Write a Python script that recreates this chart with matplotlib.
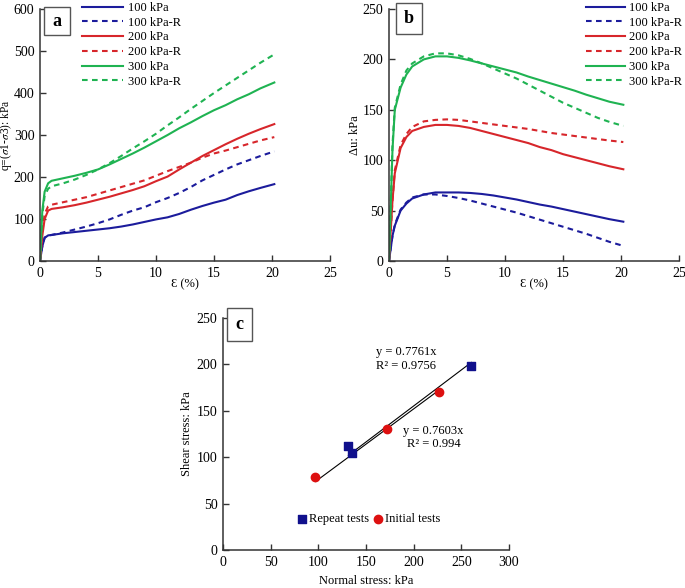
import matplotlib
matplotlib.use('Agg')
import matplotlib.pyplot as plt
from matplotlib.patches import Rectangle
import numpy as np

plt.rcParams['font.family'] = ['Liberation Serif', 'DejaVu Serif']
plt.rcParams['mathtext.fontset'] = 'stix'
plt.rcParams['font.size'] = 9

# ---- data ----
# panel a: deviator stress q (kPa) vs axial strain (%)
eps_a = [0, 0.2, 0.4, 0.7, 1, 2, 3, 4, 5, 6, 7, 8, 9, 10, 11, 12, 13, 14, 15, 16, 17, 18, 19, 20.2]
q_100 = [0, 35, 55, 61, 62, 66, 69, 72, 75, 78, 82, 87, 93, 99, 104, 112, 122, 131, 139, 146, 157, 166, 174, 183]
q_100R = [0, 35, 56, 60, 62, 68, 75, 82, 90, 99, 110, 120, 128, 140, 150, 162, 176, 192, 205, 218, 230, 240, 250, 261]
q_200 = [0, 60, 100, 120, 124, 128, 133, 139, 146, 153, 161, 169, 178, 190, 201, 218, 234, 250, 264, 278, 291, 303, 314, 326]
q_200R = [0, 70, 112, 130, 134, 140, 146, 152, 160, 168, 176, 184, 192, 203, 214, 224, 234, 246, 256, 263, 271, 279, 287, 295]
q_300 = [0, 120, 165, 185, 191, 197, 203, 210, 218, 230, 243, 256, 270, 285, 300, 316, 330, 345, 359, 371, 385, 397, 411, 425]
q_300R = [0, 110, 155, 172, 178, 185, 194, 205, 218, 233, 250, 268, 285, 303, 323, 342, 362, 381, 400, 418, 436, 454, 472, 492]

# panel b: excess pore pressure (kPa) vs axial strain (%)
eps_b = [0, 0.3, 0.5, 1, 1.5, 2, 3, 4, 5, 6, 7, 8, 9, 10, 11, 12, 13, 14, 15, 16, 17, 18, 19, 20.2]
u_100 = [0, 25, 35, 50, 57, 62, 66, 68, 68, 68, 67.5, 66.5, 65, 63, 61, 58.5, 56, 54, 51.5, 49, 46.5, 44, 41.5, 39]
u_100R = [0, 25, 36, 51, 58, 63, 66, 66, 64.5, 62.5, 60, 57, 54, 51, 48, 44.5, 41, 37.5, 34, 30.5, 27, 23, 19, 15]
u_200 = [0, 60, 87, 112, 123, 129, 133, 135, 135, 134, 132, 129, 126, 123, 120, 117, 113, 110, 106, 103, 100, 97, 94, 91]
u_200R = [0, 60, 90, 115, 126, 133, 138.5, 140, 140.5, 140, 138.5, 137, 135.5, 134, 132.5, 131, 129, 127, 125.5, 124, 122.5, 121, 119.5, 118]
u_300 = [0, 110, 150, 172, 185, 193, 200, 203, 203, 201.5, 199, 196, 193, 190, 187, 183, 179.5, 176, 172.5, 169, 165, 161.5, 158, 155]
u_300R = [0, 115, 152, 175, 189, 196, 203, 206, 206, 204, 200.5, 196, 191, 186, 181, 175, 169, 163, 157, 152, 147, 142, 138, 134]

labels = ['100 kPa', '100 kPa-R', '200 kPa', '200 kPa-R', '300 kPa', '300 kPa-R']

# panel c: failure envelopes
repeat_sn = [131.5, 135, 260.5]
repeat_tau = [112.3, 104.7, 198]
initial_sn = [97, 171.6, 226.7]
initial_tau = [78.2, 130.6, 170.7]
slope_repeat = 0.7761
slope_initial = 0.7603

blue = '#1c1c9c'
red = '#d7262b'
green = '#1fb352'
dash = (0, (2.7, 2.1))
styles = [(blue, '-'), (blue, dash), (red, '-'), (red, dash), (green, '-'), (green, dash)]

W, H = 685, 588
fig = plt.figure(figsize=(W / 100, H / 100), dpi=100)


def px_axes(l, t, r, b):
    return fig.add_axes([l / W, 1 - b / H, (r - l) / W, (b - t) / H])


def style_axes(ax):
    for s in ['top', 'right']:
        ax.spines[s].set_visible(False)
    for s in ['left', 'bottom']:
        ax.spines[s].set_linewidth(1.1)
        ax.spines[s].set_color('#333333')
    ax.tick_params(direction='in', length=4, width=1, color='#333333', labelsize=10, pad=4)


def label_box(l, t, r, b, letter):
    fig.add_artist(Rectangle((l / W, 1 - b / H), (r - l) / W, (b - t) / H,
                             transform=fig.transFigure, fc='white', ec='#555555', lw=1))
    fig.text((l + r) / 2 / W, 1 - (t + b) / 2 / H, letter, ha='center', va='center',
             fontsize=13, fontweight='bold')


leg_kw = dict(loc='upper left', bbox_transform=fig.transFigure, frameon=False, borderpad=0,
              borderaxespad=0, handletextpad=0.35, labelspacing=0.22, fontsize=9)

# ---- panel a ----
ax_a = px_axes(40, 9, 330, 261)
series_a = [q_100, q_100R, q_200, q_200R, q_300, q_300R]
for ys, (c, ls), lab in zip(series_a, styles, labels):
    ax_a.plot(eps_a, ys, color=c, linestyle=ls, lw=1.5, label=lab)
ax_a.set_xlim(0, 25)
ax_a.set_ylim(0, 600)
ax_a.set_xticks(range(0, 26, 5))
ax_a.set_yticks(range(0, 601, 100))
ax_a.set_xlabel('Ɛ (%)', labelpad=-1)
ax_a.set_ylabel(r'q=($\sigma$1-$\sigma$3): kPa', fontsize=8.3)
ax_a.yaxis.set_label_coords(-25.5 / 290, 0.5)
style_axes(ax_a)
ax_a.legend(bbox_to_anchor=(82 / W, 1 - 2 / H), handlelength=3.3, **leg_kw)
label_box(44, 7, 70, 35, 'a')

# ---- panel b ----
ax_b = px_axes(389, 9, 679, 261)
series_b = [u_100, u_100R, u_200, u_200R, u_300, u_300R]
for ys, (c, ls), lab in zip(series_b, styles, labels):
    ax_b.plot(eps_b, ys, color=c, linestyle=ls, lw=1.5, label=lab)
ax_b.set_xlim(0, 25)
ax_b.set_ylim(0, 250)
ax_b.set_xticks(range(0, 26, 5))
ax_b.set_yticks(range(0, 251, 50))
ax_b.set_xlabel('Ɛ (%)', labelpad=-1)
ax_b.set_ylabel('Δu: kPa', labelpad=1)
style_axes(ax_b)
ax_b.legend(bbox_to_anchor=(586 / W, 1 - 2 / H), handlelength=3.1, **leg_kw)
label_box(396, 3, 422, 34, 'b')

# ---- panel c ----
ax_c = px_axes(223, 318, 509, 550)
xr = np.array([min(repeat_sn), max(repeat_sn)])
xi = np.array([min(initial_sn), max(initial_sn)])
ax_c.plot(xr, slope_repeat * xr, color='black', lw=0.8)
ax_c.plot(xi, slope_initial * xi, color='black', lw=0.8)
ax_c.scatter(repeat_sn, repeat_tau, marker='s', s=34, color='#10108c', zorder=3, label='Repeat tests')
ax_c.scatter(initial_sn, initial_tau, marker='o', s=36, color='#dd1010', zorder=3, label='Initial tests')
ax_c.text(192, 213, 'y = 0.7761x', ha='center', va='center', fontsize=9)
ax_c.text(192, 198, 'R² = 0.9756', ha='center', va='center', fontsize=9)
ax_c.text(221, 128.5, 'y = 0.7603x', ha='center', va='center', fontsize=9)
ax_c.text(221, 114, 'R² = 0.994', ha='center', va='center', fontsize=9)
ax_c.set_xlim(0, 300)
ax_c.set_ylim(0, 250)
ax_c.set_xticks(range(0, 301, 50))
ax_c.set_yticks(range(0, 251, 50))
ax_c.set_xlabel('Normal stress: kPa', labelpad=5)
ax_c.set_ylabel('Shear stress: kPa', labelpad=3)
style_axes(ax_c)
ax_c.legend(loc='center left', bbox_to_anchor=(297 / W, 1 - 519 / H), bbox_transform=fig.transFigure,
            ncol=2, frameon=False, borderpad=0, borderaxespad=0, handlelength=0.8, handletextpad=0.15,
            columnspacing=0.3, fontsize=9, scatterpoints=1)
label_box(227, 308, 252, 341, 'c')

fig.savefig('out.png', dpi=100)
